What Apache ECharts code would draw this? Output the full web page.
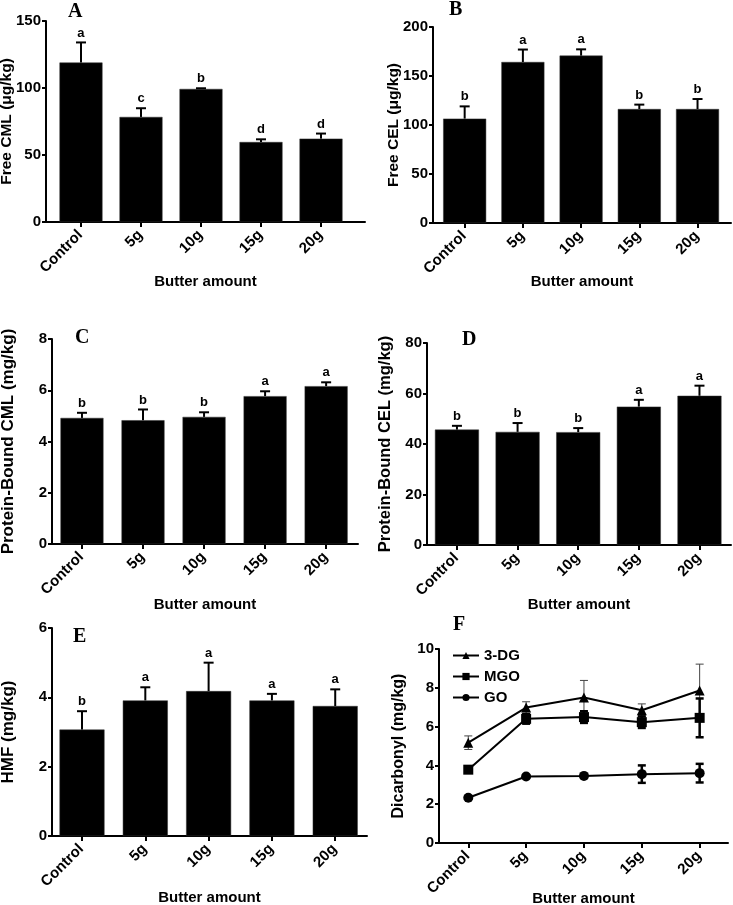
<!DOCTYPE html>
<html><head><meta charset="utf-8">
<script src="https://cdn.jsdelivr.net/npm/echarts@6.0.0/dist/echarts.min.js"></script>
<style>html,body{margin:0;padding:0;background:#fff}#c{width:733px;height:905px}</style>
</head><body><div id="c"></div>
<script>
// ---- data ----
const categories = ['Control', '5g', '10g', '15g', '20g'];

const freeCML = [119, 78.4, 99.3, 59.7, 62.2];
const freeCMLsd = [15, 6.5, 0.5, 2.0, 3.8];
const freeCMLsig = ['a', 'c', 'b', 'd', 'd'];

const freeCEL = [106.5, 164.3, 170.8, 116.3, 116.3];
const freeCELsd = [12.5, 12.7, 6.4, 4.5, 10.2];
const freeCELsig = ['b', 'a', 'a', 'b', 'b'];

const boundCML = [4.92, 4.83, 4.96, 5.77, 6.16];
const boundCMLsd = [0.2, 0.42, 0.18, 0.19, 0.15];
const boundCMLsig = ['b', 'b', 'b', 'a', 'a'];

const boundCEL = [45.7, 44.8, 44.7, 54.8, 59.1];
const boundCELsd = [1.5, 3.5, 1.6, 2.7, 4.0];
const boundCELsig = ['b', 'b', 'b', 'a', 'a'];

const hmf = [3.07, 3.91, 4.18, 3.91, 3.75];
const hmfSd = [0.53, 0.38, 0.82, 0.19, 0.48];
const hmfSig = ['b', 'a', 'a', 'a', 'a'];

const dg3 = [5.17, 6.98, 7.5, 6.84, 7.86];
const dg3Sd = [0.35, 0.3, 0.88, 0.33, 1.36];
const mgo = [3.78, 6.4, 6.49, 6.23, 6.45];
const mgoSd = [0.15, 0.25, 0.3, 0.3, 1.0];
const go = [2.33, 3.43, 3.46, 3.55, 3.6];
const goSd = [0.05, 0.05, 0.05, 0.45, 0.48];

// ---- layout ----
const FONT = '"Liberation Sans", Arial, Helvetica, sans-serif';
const panels = [
  {letter:'A', lx:68, ly:2, vals:freeCML, sd:freeCMLsd, sig:freeCMLsig, yName:'Free CML (μg/kg)', yFs:15.5, yGap:31, ymax:150, yint:50,
   grid:{left:46, top:21, width:319, height:201}, xmin:-0.583, xmax:4.733, xGap:52, barW:43},
  {letter:'B', lx:449, ly:0, vals:freeCEL, sd:freeCELsd, sig:freeCELsig, yName:'Free CEL (μg/kg)', yFs:15.5, yGap:31, ymax:200, yint:50,
   grid:{left:433, top:27, width:298, height:196}, xmin:-0.544, xmax:4.575, xGap:51, barW:43},
  {letter:'C', lx:75, ly:328, vals:boundCML, sd:boundCMLsd, sig:boundCMLsig, yName:'Protein-Bound CML (mg/kg)', yFs:17, yGap:35, ymax:8, yint:2,
   grid:{left:52, top:339, width:306, height:205}, xmin:-0.491, xmax:4.522, xGap:53, barW:43},
  {letter:'D', lx:462, ly:330, vals:boundCEL, sd:boundCELsd, sig:boundCELsig, yName:'Protein-Bound CEL (mg/kg)', yFs:16.5, yGap:33, ymax:80, yint:20,
   grid:{left:427, top:343, width:304, height:202}, xmin:-0.494, xmax:4.52, xGap:52, barW:44},
  {letter:'E', lx:73, ly:627, vals:hmf, sd:hmfSd, sig:hmfSig, yName:'HMF (mg/kg)', yFs:17, yGap:35, ymax:6, yint:2,
   grid:{left:52, top:628, width:315, height:208}, xmin:-0.474, xmax:4.502, xGap:54, barW:45},
  {letter:'F', lx:453, ly:615, yName:'Dicarbonyl (mg/kg)', yFs:16, yGap:32, ymax:10, yint:2,
   grid:{left:439, top:649, width:289, height:194}, xmin:-0.506, xmax:4.49, xGap:48}
];

const grids = [], xAxes = [], yAxes = [], series = [], graphics = [];
const tickVals = categories.map((c, i) => i);

panels.forEach((p, i) => {
  grids.push(Object.assign({containLabel:false, outerBoundsMode:'none'}, p.grid));
  xAxes.push({
    type:'value', gridIndex:i, min:p.xmin, max:p.xmax,
    name:'Butter amount', nameLocation:'middle', nameGap:p.xGap, nameMoveOverlap:false,
    nameTextStyle:{fontFamily:FONT, fontWeight:'bold', fontSize:15, color:'#000'},
    axisLine:{show:true, onZero:false, lineStyle:{color:'#000', width:2}},
    axisTick:{show:true, customValues:tickVals, length:5, lineStyle:{color:'#000', width:2}},
    axisLabel:{show:true, customValues:tickVals, rotate:45, margin:10, padding:[0, 1, 0, 0],
      formatter:v => categories[Math.round(v)] || '',
      fontFamily:FONT, fontWeight:'bold', fontSize:15, color:'#000'},
    splitLine:{show:false}
  });
  yAxes.push({
    type:'value', gridIndex:i, min:0, max:p.ymax, interval:p.yint,
    name:p.yName, nameLocation:'middle', nameGap:p.yGap, nameMoveOverlap:false,
    nameTextStyle:{fontFamily:FONT, fontWeight:'bold', fontSize:p.yFs, color:'#000'},
    axisLine:{show:true, onZero:false, lineStyle:{color:'#000', width:2}},
    axisTick:{show:true, length:4, lineStyle:{color:'#000', width:2}},
    axisLabel:{margin:5, fontFamily:FONT, fontWeight:'bold', fontSize:15, color:'#000'},
    splitLine:{show:false}
  });
  graphics.push({type:'text', left:p.lx, top:p.ly,
    style:{text:p.letter, font:'bold 20px "Liberation Serif", "Times New Roman", serif', fill:'#000'}});

  if (p.vals) {
    series.push({
      type:'bar', xAxisIndex:i, yAxisIndex:i, barWidth:p.barW,
      data:p.vals.map((v, j) => [j, v]),
      itemStyle:{color:'#000', borderColor:'#333', borderWidth:0.5},
      silent:true, animation:false
    });
    const sig = p.sig;
    series.push({
      type:'custom', xAxisIndex:i, yAxisIndex:i, z:5,
      data:p.vals.map((v, j) => [j, v, p.sd[j]]),
      renderItem:(params, api) => {
        const x = api.value(0), m = api.value(1), s = api.value(2);
        const base = api.coord([x, m]);
        const top = api.coord([x, m + s]);
        return {type:'group', children:[
          {type:'line', shape:{x1:base[0], y1:base[1], x2:top[0], y2:top[1]}, style:{stroke:'#000', lineWidth:2}},
          {type:'line', shape:{x1:top[0]-5, y1:top[1], x2:top[0]+5, y2:top[1]}, style:{stroke:'#000', lineWidth:2}},
          {type:'text', x:top[0], y:top[1]-3, style:{text:sig[params.dataIndex], fill:'#000',
            font:'bold 13px ' + FONT, align:'center', verticalAlign:'bottom'}}
        ]};
      },
      animation:false, silent:true
    });
  }
});

// panel F lines
const fIdx = 5;
const lineDefs = [
  {name:'3-DG', vals:dg3, sd:dg3Sd, symbol:'triangle', size:10, errW:1, errC:'#444'},
  {name:'MGO', vals:mgo, sd:mgoSd, symbol:'rect', size:10, errW:2.5, errC:'#000'},
  {name:'GO', vals:go, sd:goSd, symbol:'circle', size:10, errW:2.5, errC:'#000'}
];
lineDefs.forEach(d => {
  series.push({
    type:'custom', xAxisIndex:fIdx, yAxisIndex:fIdx, z:2,
    data:d.vals.map((v, j) => [j, v, d.sd[j]]),
    renderItem:(params, api) => {
      const x = api.value(0), m = api.value(1), s = api.value(2);
      const lo = api.coord([x, m - s]);
      const hi = api.coord([x, m + s]);
      const st = {stroke:d.errC, lineWidth:d.errW};
      return {type:'group', children:[
        {type:'line', shape:{x1:lo[0], y1:lo[1], x2:hi[0], y2:hi[1]}, style:st},
        {type:'line', shape:{x1:hi[0]-4, y1:hi[1], x2:hi[0]+4, y2:hi[1]}, style:st},
        {type:'line', shape:{x1:lo[0]-4, y1:lo[1], x2:lo[0]+4, y2:lo[1]}, style:st}
      ]};
    },
    animation:false, silent:true
  });
  series.push({
    name:d.name, type:'line', xAxisIndex:fIdx, yAxisIndex:fIdx, z:3,
    data:d.vals.map((v, j) => [j, v]),
    symbol:d.symbol, symbolSize:d.size, showSymbol:true,
    lineStyle:{color:'#000', width:2}, itemStyle:{color:'#000'},
    animation:false, silent:true
  });
});

const chart = echarts.init(document.getElementById('c'), null, {renderer:'canvas'});
chart.setOption({
  animation:false,
  backgroundColor:'#fff',
  grid:grids, xAxis:xAxes, yAxis:yAxes, series:series,
  legend:{data:['3-DG', 'MGO', 'GO'], orient:'vertical', left:447, top:643,
    itemWidth:26, itemHeight:9, itemGap:6,
    textStyle:{fontFamily:FONT, fontWeight:'bold', fontSize:15, color:'#000'}},
  graphic:graphics
});
</script></body></html>
